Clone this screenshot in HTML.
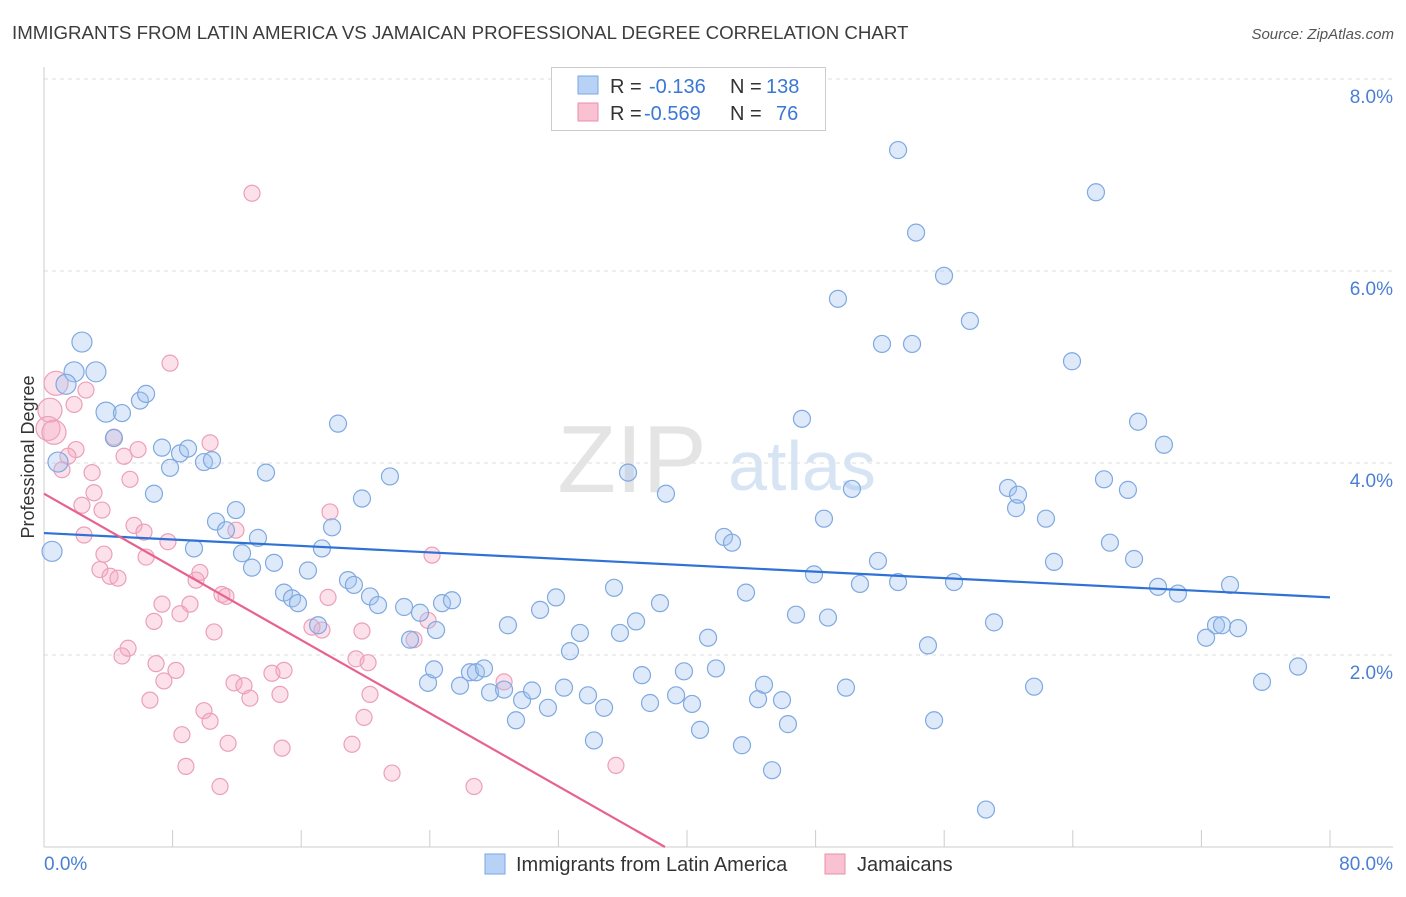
<!DOCTYPE html>
<html><head><meta charset="utf-8"><style>
body{margin:0;background:#fff;font-family:"Liberation Sans",sans-serif;}
svg text{font-family:"Liberation Sans",sans-serif;}
</style></head><body>
<svg id="chart" width="1406" height="892" xmlns="http://www.w3.org/2000/svg">
<text x="12" y="39" font-size="18.7" fill="#3c3c3c">IMMIGRANTS FROM LATIN AMERICA VS JAMAICAN PROFESSIONAL DEGREE CORRELATION CHART</text>
<text x="1394" y="39" font-size="15" fill="#555" font-style="italic" text-anchor="end">Source: ZipAtlas.com</text>
<text x="34" y="457" font-size="18" fill="#333" text-anchor="middle" transform="rotate(-90 34 457)">Professional Degree</text>
<g id="grid"></g>
<text x="632" y="492" font-size="96" fill="#e4e4e4" font-family="Liberation Serif" text-anchor="middle">ZIP</text>
<text x="802" y="490" font-size="70" fill="#d6e4f4" text-anchor="middle">atlas</text>
<g id="pts"></g>
<g id="lines"></g>
<g>
<rect x="551.5" y="67.5" width="274" height="63" fill="#fff" stroke="#ccc"/>
<rect x="578" y="76" width="20" height="18" fill="#b8d2f5" stroke="#7aa7e3"/>
<rect x="578" y="103" width="20" height="18" fill="#f8c2d2" stroke="#ea8fab"/>
<text x="610" y="93" font-size="20" fill="#333">R = <tspan x="649" fill="#3a78d4">-0.136</tspan><tspan x="730">N = </tspan><tspan x="766" fill="#3a78d4">138</tspan></text>
<text x="610" y="120" font-size="20" fill="#333">R = <tspan x="644" fill="#3a78d4">-0.569</tspan><tspan x="730">N = </tspan><tspan x="776" fill="#3a78d4">76</tspan></text>
</g>
<g>
<rect x="485" y="854" width="20" height="20" fill="#b8d2f5" stroke="#7aa7e3"/>
<text x="516" y="871" font-size="20" fill="#333">Immigrants from Latin America</text>
<rect x="825" y="854" width="20" height="20" fill="#f8c2d2" stroke="#ea8fab"/>
<text x="857" y="871" font-size="20" fill="#333">Jamaicans</text>
</g>
</svg>
<script>
const yTicks=[2,4,6,8];
const xTickLabels=["0.0%","80.0%"];
const blueX=[0.5,2.36,1.87,3.23,1.37,3.86,4.85,5.97,6.35,4.35,0.87,7.34,8.46,8.96,7.84,9.95,10.45,6.84,13.81,18.29,10.7,11.94,11.32,13.31,9.33,12.32,12.94,14.31,16.42,17.29,17.92,19.78,21.52,14.93,15.43,15.8,17.05,18.91,19.28,20.28,20.78,22.4,23.39,24.39,22.77,24.76,25.38,28.86,30.86,31.85,32.72,33.34,35.46,35.83,36.83,38.32,36.33,38.69,23.89,24.26,25.88,26.5,26.87,27.37,27.75,28.62,29.36,29.74,30.36,31.35,32.35,33.84,34.21,34.84,37.2,37.7,39.32,39.81,40.31,40.81,41.31,41.8,42.3,42.8,43.67,43.42,44.42,44.79,45.29,45.91,46.28,46.78,47.15,47.9,48.52,48.77,49.39,49.89,50.26,50.76,51.88,52.13,53.13,53.13,54,54.25,54.99,55.37,55.99,56.61,57.6,58.6,59.1,59.97,60.47,60.59,61.59,62.33,62.83,63.95,65.44,65.94,66.31,67.43,67.81,68.06,69.3,69.67,70.54,72.29,72.91,73.28,73.78,74.28,75.77,78.01];
const blueY=[3.08,5.26,4.95,4.95,4.82,4.53,4.52,4.65,4.72,4.26,4.01,4.16,4.1,4.15,3.95,4.01,4.03,3.68,3.9,4.41,3.39,3.51,3.3,3.22,3.11,3.06,2.91,2.96,2.88,3.11,3.33,3.63,3.86,2.65,2.59,2.54,2.31,2.78,2.73,2.61,2.52,2.5,2.44,2.26,2.16,2.54,2.57,2.31,2.47,2.6,2.04,2.23,2.7,2.23,2.35,2.54,3.9,3.68,1.71,1.85,1.68,1.82,1.82,1.86,1.61,1.64,1.32,1.53,1.63,1.45,1.66,1.58,1.11,1.45,1.79,1.5,1.58,1.83,1.49,1.22,2.18,1.86,3.23,3.17,2.65,1.06,1.54,1.69,0.8,1.53,1.28,2.42,4.46,2.84,3.42,2.39,5.71,1.66,3.73,2.74,2.98,5.24,7.26,2.76,5.24,6.4,2.1,1.32,5.95,2.76,5.48,0.39,2.34,3.74,3.53,3.67,1.67,3.42,2.97,5.06,6.82,3.83,3.17,3.72,3.0,4.43,2.71,4.19,2.64,2.18,2.31,2.31,2.73,2.28,1.72,1.88];
const pinkX=[12.94,7.84,0.75,0.37,2.61,1.87,0.25,0.62,4.35,1.99,1.49,1.12,10.33,4.98,5.85,2.99,5.35,3.11,2.36,3.61,5.6,6.22,7.71,11.94,17.79,3.73,6.35,24.14,3.48,4.11,4.6,9.46,11.07,11.32,9.7,7.34,9.08,8.46,6.84,17.67,16.67,17.29,19.78,23.02,23.89,5.23,10.58,4.85,6.97,8.21,7.46,14.18,14.93,19.41,20.16,28.62,11.82,12.44,14.68,20.28,6.59,9.95,12.81,10.33,19.91,8.58,11.45,14.81,19.16,8.83,21.65,10.95,26.75,35.58,2.49];
const pinkY=[6.81,5.04,4.83,4.55,4.76,4.61,4.36,4.32,4.27,4.14,4.07,3.93,4.21,4.07,4.14,3.9,3.83,3.69,3.56,3.51,3.35,3.28,3.18,3.3,3.49,3.05,3.02,3.04,2.89,2.82,2.8,2.78,2.63,2.61,2.86,2.53,2.53,2.43,2.35,2.6,2.29,2.26,2.25,2.16,2.36,2.07,2.24,1.99,1.91,1.84,1.73,1.81,1.84,1.96,1.92,1.72,1.71,1.68,1.59,1.59,1.53,1.42,1.55,1.31,1.35,1.17,1.08,1.03,1.07,0.84,0.77,0.63,0.63,0.85,3.25];
const blueTrend=[3.27,2.60];
const pinkTrend=[3.68,0];
const pinkTrendEndX=38.63;
const NS="http://www.w3.org/2000/svg";
const X0=44,X1=1330,Y0=847,Yper=96;
function sx(v){return X0+v*(X1-X0)/80;}
function sy(v){return Y0-v*Yper;}
function mk(tag,attrs,parent){const e=document.createElementNS(NS,tag);for(const k in attrs)e.setAttribute(k,attrs[k]);parent.appendChild(e);return e;}
const grid=document.getElementById('grid');
yTicks.forEach(t=>{
 const l=mk('line',{x1:44,x2:1393,y1:sy(t),y2:sy(t),stroke:'#ddd','stroke-dasharray':'4,4'},grid);
 
 
 const tx=mk('text',{x:1393,y:sy(t)+24,'font-size':19,fill:'#4a7fd4','text-anchor':'end'},grid);
 tx.textContent=t.toFixed(1)+'%';
 
 
});
const topGrid=mk('line',{x1:44,x2:1393,y1:79,y2:79,stroke:'#ddd','stroke-dasharray':'4,4'},grid);
mk('line',{x1:44,x2:44,y1:67,y2:847,stroke:'#ccc'},grid);
const ax=mk('line',{x1:44,x2:1393,y1:847,y2:847,stroke:'#ccc'},grid);


for(let i=0;i<=10;i++){mk('line',{x1:sx(i*8),x2:sx(i*8),y1:830,y2:847,stroke:'#ccc'},grid);}
const xl0=mk('text',{x:44,y:870,'font-size':19,fill:'#4a7fd4'},grid);xl0.textContent=xTickLabels[0];


const xl1=mk('text',{x:1393,y:870,'font-size':19,fill:'#4a7fd4','text-anchor':'end'},grid);xl1.textContent=xTickLabels[1];


const pts=document.getElementById('pts');
pinkX.forEach((x,i)=>{
 const c=mk('circle',{cx:sx(x),cy:sy(pinkY[i]),r:x<1?12:8,fill:'rgba(245,170,195,0.35)',stroke:'#eba0b8','stroke-width':1.2},pts);
 
 
});
blueX.forEach((x,i)=>{
 const c=mk('circle',{cx:sx(x),cy:sy(blueY[i]),r:x<4?10:8.5,fill:'rgba(160,195,240,0.35)',stroke:'#7fa9e0','stroke-width':1.2},pts);
 
 
});
const lines=document.getElementById('lines');
const bl=mk('line',{x1:sx(0),y1:sy(blueTrend[0]),x2:sx(80),y2:sy(blueTrend[1]),stroke:'#2f72d6','stroke-width':2.2},lines);


const pl=mk('line',{x1:sx(0),y1:sy(pinkTrend[0]),x2:sx(pinkTrendEndX),y2:sy(pinkTrend[1]),stroke:'#e8628e','stroke-width':2.2},lines);


</script>
</body></html>
